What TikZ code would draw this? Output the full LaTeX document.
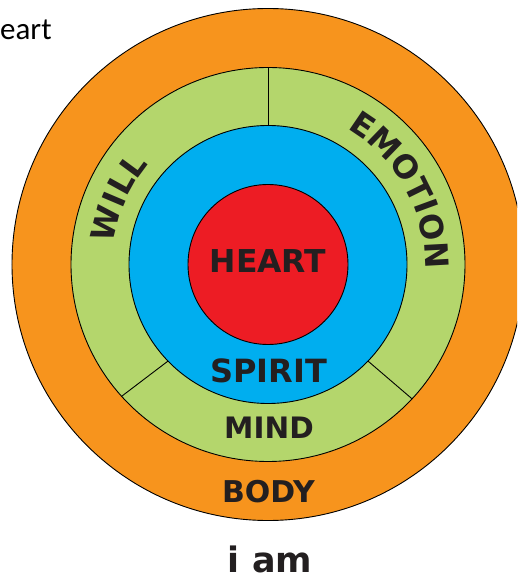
\documentclass[tikz,border=0pt]{standalone}
\usepackage{fontspec}
\usetikzlibrary{decorations.text}
\newfontfamily\djv{DejaVu Sans}
\newfontfamily\carl{Carlito}
\definecolor{bodyorange}{HTML}{F7941D}
\definecolor{soulgreen}{HTML}{B4D66C}
\definecolor{spiritblue}{HTML}{00AEEF}
\definecolor{heartred}{HTML}{ED1C24}
\definecolor{txt}{HTML}{231F20}
\newcommand\labsize[1]{\djv\bfseries\fontsize{#1}{#1}\selectfont\color{txt}}
\tikzset{
  ring/.style={circle, draw=black, line width=0.9pt, inner sep=0pt, outer sep=0pt},
  divider/.style={draw=black, line width=0.9pt},
  lab/.style={inner sep=0pt, anchor=base, text=txt}
}
\begin{document}
\begin{tikzpicture}[x=1pt,y=1pt]
\useasboundingbox (-268,-315.5) rectangle (249,264.5);
\clip (-268,-315.5) rectangle (249,264.5);
\node[ring, fill=bodyorange, minimum size=512pt] (body) at (0,0) {};
\node[ring, fill=soulgreen, minimum size=394pt] (soul) at (0,0) {};
\node[ring, fill=spiritblue, minimum size=278pt] (spirit) at (0,0) {};
\node[ring, fill=heartred, minimum size=160pt] (heart) at (0,0) {};
\draw[divider] (spirit.90) -- (soul.90);
\draw[divider] (spirit.-136) -- (soul.-138);
\draw[divider] (spirit.-44) -- (soul.-43);
\node[lab] (heartlab) at (0,-8.5) {\labsize{31.5}HEART};
\node[lab] (spiritlab) at (0.5,-117.5) {\labsize{32}SPIRIT};
\node[lab] (mindlab) at (1,-173.5) {\labsize{29.5}MIND};
\node[lab] (bodylab) at (0.5,-237.5) {\labsize{30}BODY};
\node[lab] (iam) at (2,-308) {\labsize{35}i am};
\node[inner sep=0pt, anchor=base west] (eart) at (-268,225) {\carl\fontsize{31}{31}\selectfont eart};
\path[decorate, decoration={text along path, text align=center,
  text={|\labsize{32}|WILL}}]
  (181:156) arc[start angle=181, end angle=131, radius=156];
\path[decorate, decoration={text along path, text align=center,
  text={|\labsize{32}|EMOTION}}]
  (69:157) arc[start angle=69, end angle=-11, radius=157];
\end{tikzpicture}
\end{document}
